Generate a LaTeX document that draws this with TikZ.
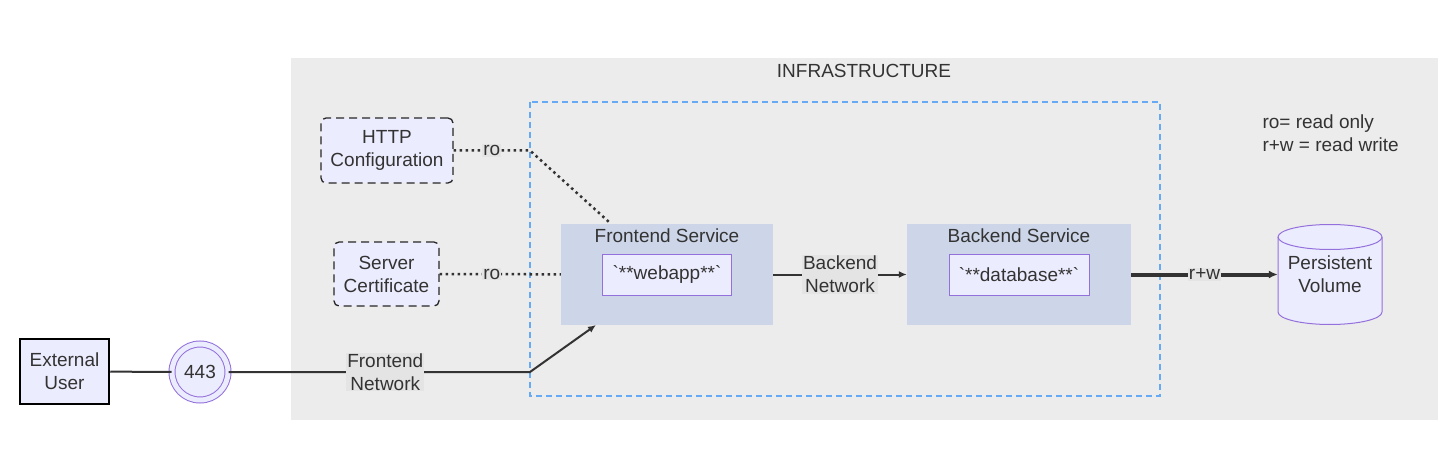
\documentclass[tikz,border=0pt]{standalone}
\usepackage{fontspec}
\setmainfont{Liberation Sans}
\usepackage{tikz}
\usetikzlibrary{arrows.meta,positioning,calc}

\definecolor{clustergray}{HTML}{ECECEC}
\definecolor{svcblue}{HTML}{CDD6E8}
\definecolor{nodefill}{HTML}{ECECFF}
\definecolor{nodeline}{HTML}{9370DB}
\definecolor{zoneblue}{HTML}{66AAF5}
\definecolor{lblgray}{HTML}{E4E4E4}
\definecolor{inkgray}{HTML}{333333}

\tikzset{
	pod/.style={draw=nodeline, fill=nodefill, line width=1pt, minimum height=41pt, inner sep=0pt},
	svc/.style={fill=svcblue, minimum width=212pt, minimum height=101pt, inner sep=0pt},
	mount/.style={draw=black!85, fill=nodefill, dash pattern=on 8pt off 5pt, line width=1.3pt, rounded corners=5pt, align=center, inner sep=0pt},
	edgelbl/.style={fill=lblgray, inner sep=1pt, align=center, text=inkgray},
	wire/.style={draw=inkgray, line width=2pt},
	rolink/.style={draw=inkgray, line width=2.5pt, dash pattern=on 2.5pt off 3.5pt},
	tip/.style={-{Latex[length=8pt,width=7pt]}}
}

\begin{document}
\begin{tikzpicture}[x=1pt, y=-1pt, font=\fontsize{19}{23}\selectfont, text=inkgray]
	\useasboundingbox (0,0) rectangle (1452,476);
	\fill[white] (0,0) rectangle (1452,476);

	% Infrastructure cluster
	\fill[clustergray] (291,58) rectangle (1438,420);
	\node (infra) at (864,71) {INFRASTRUCTURE};
	\draw[zoneblue, line width=2pt, dash pattern=on 6pt off 4pt] (530,102) rectangle (1160,396);
	\node[align=left, anchor=west] (legend) at (1259,133) {ro= read only\\r+w = read write};

	% Services
	\node[svc] (fsvc) at (667,274.5) {};
	\node[below=1pt of fsvc.north] (fsvclbl) {Frontend Service};
	\node[pod, minimum width=129pt] (webapp) at (667,274.5) {\textasciigrave**webapp**\textasciigrave};
	\node[svc, minimum width=224pt] (bsvc) at (1019,274.5) {};
	\node[below=1pt of bsvc.north] (bsvclbl) {Backend Service};
	\node[pod, minimum width=140pt] (db) at (1019,274.5) {\textasciigrave**database**\textasciigrave};

	% Mounted files
	\node[mount, minimum width=132pt, minimum height=65pt] (httpcfg) at (387,150.5) {HTTP\\Configuration};
	\node[mount, minimum width=105pt, minimum height=64pt] (srvcert) at (386.5,274) {Server\\Certificate};

	% Outside world
	\node[draw=black, fill=nodefill, line width=2.5pt, minimum width=89pt, minimum height=65pt, align=center, inner sep=0pt] (extuser) at (64.5,371.5) {External\\User};
	\node[circle, draw=nodeline, line width=1pt, double=nodefill, double distance=5pt, fill=nodefill, minimum size=56pt, inner sep=0pt] (port) at (200,372) {443};

	% Persistent volume
	\fill[nodefill] (1278,237) -- (1278,312) arc[start angle=180, end angle=0, x radius=52, y radius=12.5] -- (1382,237) arc[start angle=0, end angle=-180, x radius=52, y radius=12.5] -- cycle;
	\draw[nodeline, line width=1pt] (1278,237) -- (1278,312) arc[start angle=180, end angle=0, x radius=52, y radius=12.5] -- (1382,237);
	\draw[nodeline, line width=1pt] (1330,237) ellipse [x radius=52, y radius=12.5];
	\node[minimum width=104pt, minimum height=101pt, align=center, inner sep=0pt] (pvol) at (1330,274.5) {Persistent\\Volume};

	% Connectors
	\coordinate (fbend) at (530,372);
	\coordinate (fin) at (596,325);
	\coordinate (hbend) at (530,150.5);
	\coordinate (cin) at (609,222);

	\draw[wire] (extuser) -- (port);
	\draw[wire, tip] (port) -- node[edgelbl, pos=0.52] {Frontend\\Network} (fbend) -- (fin);
	\draw[rolink] (httpcfg) -- node[edgelbl] {ro} (hbend) -- (cin);
	\draw[rolink] (srvcert) -- node[edgelbl, pos=0.43] {ro} (fsvc);
	\draw[wire, tip] (fsvc) -- node[edgelbl] {Backend\\Network} (bsvc);
	\draw[wire, line width=4pt, -{Latex[length=9pt,width=8pt]}] (bsvc) -- node[edgelbl] {r+w} (pvol);

\end{tikzpicture}
\end{document}
